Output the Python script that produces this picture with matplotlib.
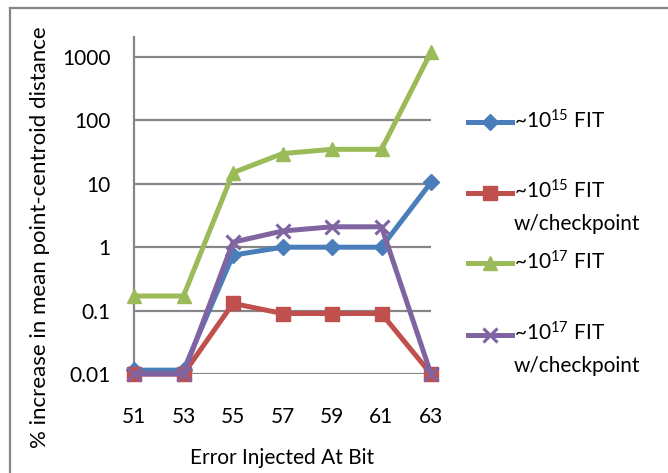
import matplotlib
matplotlib.use("Agg")
import matplotlib.pyplot as plt
from matplotlib.lines import Line2D
import numpy as np

plt.rcParams["font.family"] = ["Lato", "DejaVu Sans"]
plt.rcParams["mathtext.fontset"] = "custom"
plt.rcParams["mathtext.rm"] = "Lato"
plt.rcParams["mathtext.it"] = "Lato"
plt.rcParams["mathtext.default"] = "regular"

# data
bits = ["51", "53", "55", "57", "59", "61", "63"]
fit15 = [0.0115, 0.0115, 0.75, 1.0, 1.0, 1.0, 10.5]
fit15_ckpt = [0.01, 0.01, 0.13, 0.09, 0.09, 0.09, 0.01]
fit17 = [0.17, 0.17, 15, 30, 35, 35, 1200]
fit17_ckpt = [0.01, 0.01, 1.2, 1.8, 2.1, 2.1, 0.01]

y_ticks = [0.01, 0.1, 1, 10, 100, 1000]
y_tick_labels = ["0.01", "0.1", "1", "10", "100", "1000"]

series = [
    (fit15, "#4A7EBB", "D", 8.5, "~10$^{15}$ FIT"),
    (fit15_ckpt, "#C0504D", "s", 9.5, "~10$^{15}$ FIT\nw/checkpoint"),
    (fit17, "#9BBB59", "^", 10.5, "~10$^{17}$ FIT"),
    (fit17_ckpt, "#8064A2", "x", 9.5, "~10$^{17}$ FIT\nw/checkpoint"),
]

W, H = 668, 473
fig = plt.figure(figsize=(W / 100, H / 100), dpi=100)
ax = fig.add_axes([134 / W, 1 - 374 / H, 297 / W, 337 / H])

x = np.arange(len(bits))
for vals, color, marker, ms, label in series:
    mew = 2.2 if marker == "x" else 1
    ax.plot(x, vals, color=color, lw=3.6, marker=marker, markersize=ms,
            markeredgewidth=mew, markeredgecolor=color, markerfacecolor=color,
            clip_on=False, zorder=3)

ax.set_yscale("log")
ax.set_ylim(0.01, 2070)
ax.set_xlim(0, len(bits) - 1)
ax.set_yticks(y_ticks)
ax.set_yticklabels(y_tick_labels)
ax.minorticks_off()
ax.set_xticks(x)
ax.set_xticklabels(bits)
ax.tick_params(axis="both", length=0, labelsize=15)
ax.tick_params(axis="y", pad=17)
ax.tick_params(axis="x", pad=24)
ax.yaxis.grid(True, color="#868686", lw=1.6)
ax.set_axisbelow(True)
for side in ["top", "right", "bottom"]:
    ax.spines[side].set_visible(False)
ax.spines["left"].set_color("#868686")
ax.spines["left"].set_linewidth(1.6)

ax.set_xlabel("Error Injected At Bit", fontsize=15, labelpad=15)
fig.text(40 / W, 1 - 237 / H, "% increase in mean point-centroid distance",
         rotation=90, ha="center", va="center", fontsize=16)

# legend drawn by hand so the marker sits on the first text line
legend_y = [122, 193, 263, 335]
for (vals, color, marker, ms, label), ly in zip(series, legend_y):
    yy = 1 - ly / H
    mew = 2.2 if marker == "x" else 1
    fig.add_artist(Line2D([468 / W, 490 / W, 512 / W], [yy, yy, yy],
                          transform=fig.transFigure, color=color, lw=3.6,
                          marker=marker, markersize=ms, markevery=[1],
                          markeredgewidth=mew, markeredgecolor=color,
                          markerfacecolor=color))
    if "\n" in label:
        fig.text(514 / W, yy + 14 / H, label, ha="left", va="top",
                 fontsize=15, linespacing=1.75)
    else:
        fig.text(514 / W, yy + 1 / H, label, ha="left", va="center", fontsize=15)

# outer chart border (top and left edges visible)
fig.add_artist(Line2D([10 / W, 1], [1 - 8.5 / H, 1 - 8.5 / H],
                      transform=fig.transFigure, color="#868686", lw=1.6))
fig.add_artist(Line2D([10 / W, 10 / W], [0, 1 - 8.5 / H],
                      transform=fig.transFigure, color="#868686", lw=1.6))

fig.savefig("out.png", dpi=100)
